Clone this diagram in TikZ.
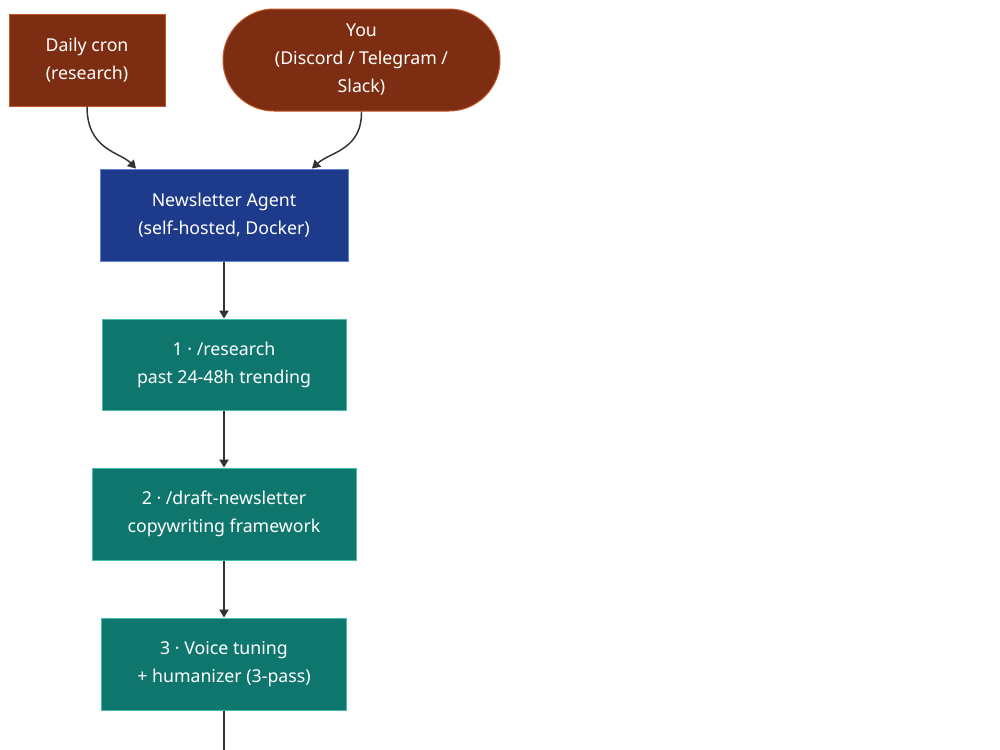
\documentclass[tikz,border=0pt]{standalone}
\usepackage{fontspec}
\setmainfont{Noto Sans}
\usetikzlibrary{arrows.meta,shapes.misc}
\definecolor{brownfill}{RGB}{124,45,18}
\definecolor{brownline}{RGB}{194,85,40}
\definecolor{bluefill}{RGB}{30,58,138}
\definecolor{blueline}{RGB}{96,130,220}
\definecolor{tealfill}{RGB}{15,118,110}
\definecolor{tealline}{RGB}{70,190,170}
\definecolor{edge}{RGB}{51,51,51}
\begin{document}
\begin{tikzpicture}[x=0.75pt,y=-0.75pt,
  box/.style={draw, line width=0.75pt, text=white, align=center, inner sep=0pt,
    font=\fontsize{13.3}{21}\selectfont},
  brownbox/.style={box, fill=brownfill, draw=brownline},
  bluebox/.style={box, fill=bluefill, draw=blueline},
  tealbox/.style={box, fill=tealfill, draw=tealline},
  conn/.style={draw=edge, line width=1.1pt, -{Triangle[length=6pt,width=7pt]}}]
\useasboundingbox (0,0) rectangle (1000,750);
\fill[white] (0,0) rectangle (1000,750);
\node[brownbox, minimum width=117pt, minimum height=69pt] (cron) at (87,60) {Daily cron\\(research)};
\node[brownbox, rounded rectangle, minimum width=207.75pt, minimum height=76.5pt] (you) at (361.5,60) {You\\(Discord / Telegram /\\Slack)};
\node[bluebox, minimum width=186pt, minimum height=69pt] (agent) at (224,215) {Newsletter Agent\\(self-hosted, Docker)};
\node[tealbox, minimum width=183pt, minimum height=68.25pt] (s1) at (224,364.5) {1 · /research\\past 24-48h trending};
\node[tealbox, minimum width=198pt, minimum height=69pt] (s2) at (224,514) {2 · /draft-newsletter\\copywriting framework};
\node[tealbox, minimum width=183.75pt, minimum height=69pt] (s3) at (224,664) {3 · Voice tuning\\+ humanizer (3-pass)};
\coordinate (out) at (224,752);
\draw[conn] (cron.south) .. controls (87,150) and (120,152) .. ([xshift=-66pt]agent.north);
\draw[conn] (you.south) .. controls (362,150) and (330,152) .. ([xshift=66pt]agent.north);
\draw[conn] (agent) -- (s1);
\draw[conn] (s1) -- (s2);
\draw[conn] (s2) -- (s3);
\draw[draw=edge, line width=1.1pt] (s3) -- (out);
\end{tikzpicture}
\end{document}
